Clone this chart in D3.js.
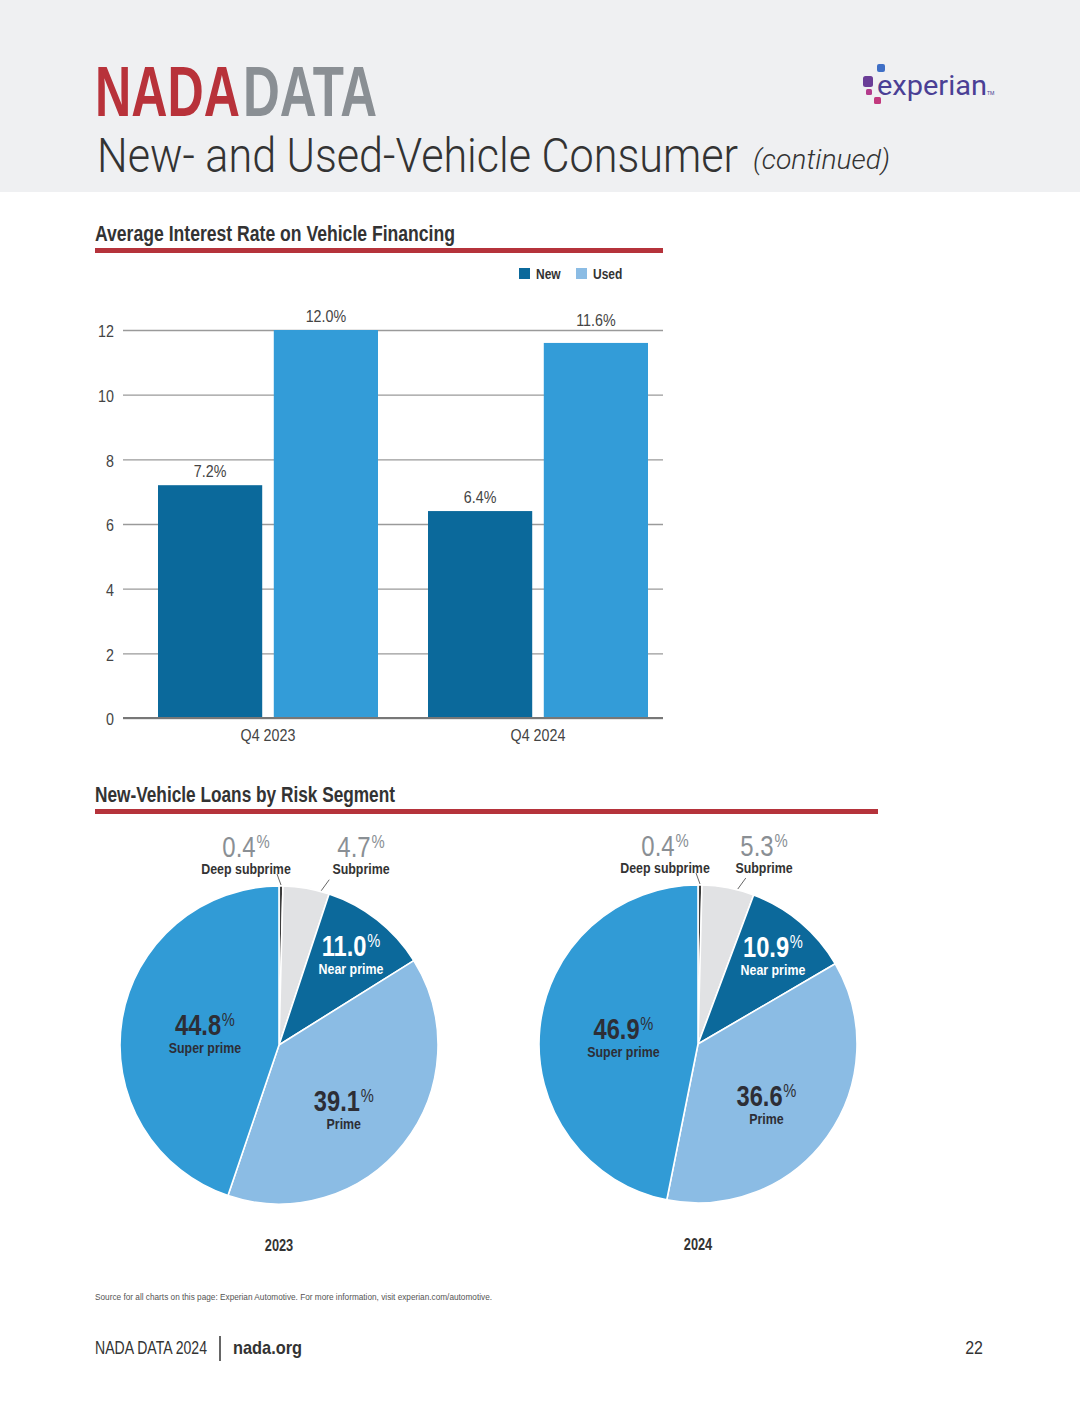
<!DOCTYPE html>
<html>
<head>
<meta charset="utf-8">
<script src="https://d3js.org/d3.v7.min.js"></script>
<style>
  body { margin: 0; background: #fff; }
  svg { display: block; }
  .cond, .cond text { font-family: "Liberation Sans", Arial, sans-serif; }
</style>
</head>
<body>
<div id="page"></div>
<script>
// chart data
var rateCategories = ["Q4 2023", "Q4 2024"];
var rateSeries = ["New", "Used"];
var rateNew = [7.2, 6.4];
var rateUsed = [12.0, 11.6];
var rateTicks = [0, 2, 4, 6, 8, 10, 12];

var segments = ["Deep subprime", "Subprime", "Near prime", "Prime", "Super prime"];
var share2023 = [0.4, 4.7, 11.0, 39.1, 44.8];
var share2024 = [0.4, 5.3, 10.9, 36.6, 46.9];
var pieYears = ["2023", "2024"];

// colours
var red = "#b5333b";
var seriesColor = { "New": "#0b699b", "Used": "#339cd8" };
var legendColor = { "New": "#0b699b", "Used": "#8bbce4" };
var segColor = {
  "Deep subprime": "#3c3c3c",
  "Subprime": "#e1e2e4",
  "Near prime": "#0c699b",
  "Prime": "#8bbce4",
  "Super prime": "#319bd6"
};
var ink = "#2d2e36";

var svgWidth = 1080;
var svgHeight = 1407;

var svg = d3.select("#page")
  .append("svg")
  .attr("width", svgWidth)
  .attr("height", svgHeight);

// ---------- header ----------
svg.append("rect")
  .attr("width", svgWidth)
  .attr("height", 192)
  .attr("fill", "#eff0f2");

svg.append("text")
  .attr("x", 95).attr("y", 116)
  .attr("font-family", "'Liberation Sans', Arial, sans-serif")
  .attr("font-size", 70).attr("font-weight", "bold")
  .attr("fill", "#b8323a")
  .attr("textLength", 145).attr("lengthAdjust", "spacingAndGlyphs")
  .text("NADA");

svg.append("text")
  .attr("x", 243).attr("y", 116)
  .attr("font-family", "'Liberation Sans', Arial, sans-serif")
  .attr("font-size", 70).attr("font-weight", "bold")
  .attr("fill", "#8a8f94")
  .attr("textLength", 134).attr("lengthAdjust", "spacingAndGlyphs")
  .text("DATA");

svg.append("text")
  .attr("x", 97).attr("y", 172)
  .attr("font-family", "Roboto, 'Open Sans', sans-serif")
  .attr("font-size", 48).attr("font-weight", 300)
  .attr("fill", "#333")
  .attr("textLength", 641).attr("lengthAdjust", "spacingAndGlyphs")
  .text("New- and Used-Vehicle Consumer");

svg.append("text")
  .attr("x", 753).attr("y", 169)
  .attr("font-family", "Roboto, 'Open Sans', sans-serif")
  .attr("font-size", 28).attr("font-weight", 300).attr("font-style", "italic")
  .attr("fill", "#333")
  .attr("textLength", 137).attr("lengthAdjust", "spacingAndGlyphs")
  .text("(continued)");

// experian logo
var logo = svg.append("g");
logo.append("rect").attr("x", 877).attr("y", 64).attr("width", 8).attr("height", 8).attr("rx", 2).attr("fill", "#3f6fc6");
logo.append("rect").attr("x", 863).attr("y", 76).attr("width", 10).attr("height", 11).attr("rx", 2.5).attr("fill", "#6a3d97");
logo.append("rect").attr("x", 866).attr("y", 89).attr("width", 6).attr("height", 6).attr("rx", 1.5).attr("fill", "#b33b8c");
logo.append("rect").attr("x", 874).attr("y", 97).attr("width", 7).attr("height", 7).attr("rx", 1.5).attr("fill", "#c2397e");
logo.append("text")
  .attr("x", 877).attr("y", 95)
  .attr("font-family", "Roboto, 'Open Sans', sans-serif")
  .attr("font-size", 28)
  .attr("fill", "#4a3f95")
  .attr("textLength", 110).attr("lengthAdjust", "spacingAndGlyphs")
  .text("experian");
logo.append("text")
  .attr("x", 987).attr("y", 95)
  .attr("font-family", "Roboto, sans-serif")
  .attr("font-size", 5)
  .attr("fill", "#4a3f95")
  .text("TM");

// section title helper
function sectionTitle(label, y, x1, width) {
  svg.append("text")
    .attr("x", 95).attr("y", y)
    .attr("font-family", "'Liberation Sans', Arial, sans-serif")
    .attr("font-size", 22).attr("font-weight", "bold")
    .attr("fill", "#333")
    .attr("textLength", width).attr("lengthAdjust", "spacingAndGlyphs")
    .text(label);
  svg.append("rect")
    .attr("x", 95).attr("y", y + 7)
    .attr("width", x1 - 95).attr("height", 5)
    .attr("fill", red);
}

// ---------- bar chart ----------
sectionTitle("Average Interest Rate on Vehicle Financing", 241, 663, 360);

var barData = rateCategories.map(function(c, i) {
  return { category: c, values: [
    { key: "New", value: rateNew[i] },
    { key: "Used", value: rateUsed[i] }
  ] };
});

var x0 = d3.scaleBand()
  .domain(rateCategories)
  .range([133, 673])
  .paddingInner(50 / 270)
  .paddingOuter(25 / 270);

var x1 = d3.scaleBand()
  .domain(rateSeries)
  .range([0, x0.bandwidth()])
  .paddingInner(0.1);

var y = d3.scaleLinear()
  .domain([0, 12])
  .range([718, 330]);

// gridlines + tick labels
var yAxis = d3.axisLeft(y)
  .tickValues(rateTicks)
  .tickSize(-(663 - 123))
  .tickPadding(9)
  .tickFormat(d3.format("d"));

var yAxisGroup = svg.append("g")
  .attr("class", "cond")
  .attr("transform", "translate(123,0)")
  .call(yAxis);

yAxisGroup.select(".domain").remove();
yAxisGroup.selectAll(".tick line")
  .attr("stroke", "#9a9a9a")
  .attr("stroke-width", 1.4);
yAxisGroup.selectAll(".tick text")
  .attr("font-size", 17)
  .attr("fill", "#444")
  .attr("dy", "0.4em");

var groups = svg.selectAll(".bar-group")
  .data(barData)
  .enter()
  .append("g")
  .attr("class", "bar-group")
  .attr("transform", d => `translate(${x0(d.category)},0)`);

groups.selectAll("rect")
  .data(d => d.values)
  .enter()
  .append("rect")
  .attr("x", d => x1(d.key))
  .attr("y", d => y(d.value))
  .attr("width", x1.bandwidth())
  .attr("height", d => y(0) - y(d.value))
  .attr("fill", d => seriesColor[d.key]);

// value label sits above the bar, lifted over a gridline if it would cross one
function labelY(v) {
  var ly = y(v) - 8;
  rateTicks.forEach(function(t) {
    var gy = y(t);
    if (gy > ly - 13 && gy < ly + 2) ly = gy - 4;
  });
  return ly;
}

groups.selectAll(".val")
  .data(d => d.values)
  .enter()
  .append("text")
  .attr("class", "cond val")
  .attr("x", d => x1(d.key) + x1.bandwidth() / 2)
  .attr("y", d => labelY(d.value))
  .attr("text-anchor", "middle")
  .attr("font-size", 17)
  .attr("fill", "#444")
  .text(d => d3.format(".1f")(d.value) + "%");

// baseline
svg.append("line")
  .attr("x1", 123).attr("x2", 663)
  .attr("y1", y(0)).attr("y2", y(0))
  .attr("stroke", "#777")
  .attr("stroke-width", 2);

// category labels
var xAxis = d3.axisBottom(x0).tickSize(0).tickPadding(11);
var xAxisGroup = svg.append("g")
  .attr("class", "cond")
  .attr("transform", `translate(0,${y(0)})`)
  .call(xAxis);
xAxisGroup.select(".domain").remove();
xAxisGroup.selectAll(".tick text")
  .attr("font-size", 17)
  .attr("fill", "#444");

// legend
var legendX = { "New": 519, "Used": 576 };
rateSeries.forEach(function(s) {
  svg.append("rect")
    .attr("x", legendX[s]).attr("y", 268)
    .attr("width", 11).attr("height", 11)
    .attr("fill", legendColor[s]);
  svg.append("text")
    .attr("class", "cond")
    .attr("x", legendX[s] + 17).attr("y", 279)
    .attr("font-size", 15).attr("font-weight", "bold")
    .attr("fill", "#333")
    .text(s);
});

// ---------- pie charts ----------
sectionTitle("New-Vehicle Loans by Risk Segment", 802, 878, 300);

var radius = 159;
var pie = d3.pie().sort(null).value(d => d.value);
var arc = d3.arc().innerRadius(0).outerRadius(radius);

// inside label layout: radius fraction and where along the slice
var insideLayout = {
  "Near prime": { r: 0.72, f: 0.52, fill: "#fff" },
  "Prime": { r: 0.58, f: 0.55, fill: ink },
  "Super prime": { r: 0.47, f: 0.49, fill: ink }
};

var pies = [
  { year: pieYears[0], values: share2023, cx: 279, cy: 1045, subDx: 82, subLead: 0.82 },
  { year: pieYears[1], values: share2024, cx: 698, cy: 1044, subDx: 66, subLead: 0.68 }
];

function pctLabel(g, x, yy, value, size, fill, weight) {
  var t = g.append("text")
    .attr("class", "cond")
    .attr("x", x).attr("y", yy)
    .attr("text-anchor", "middle")
    .attr("fill", fill);
  t.append("tspan")
    .attr("font-size", size)
    .attr("font-weight", weight)
    .text(d3.format(".1f")(value));
  t.append("tspan")
    .attr("font-size", size * 0.62)
    .attr("font-weight", "normal")
    .attr("dx", 1)
    .attr("dy", -size * 0.3)
    .text("%");
  return t;
}

pies.forEach(function(p) {
  var data = segments.map((s, i) => ({ key: s, value: p.values[i] }));
  var arcs = pie(data);

  var g = svg.append("g")
    .attr("transform", `translate(${p.cx},${p.cy})`);

  g.selectAll("path")
    .data(arcs)
    .enter()
    .append("path")
    .attr("d", arc)
    .attr("fill", d => segColor[d.data.key])
    .attr("stroke", "#fff")
    .attr("stroke-width", 1.6)
    .attr("stroke-linejoin", "round");

  // inside labels
  arcs.filter(d => insideLayout[d.data.key]).forEach(function(d) {
    var lay = insideLayout[d.data.key];
    var a = d.startAngle + (d.endAngle - d.startAngle) * lay.f;
    var r = radius * lay.r;
    var lx = Math.sin(a) * r;
    var ly = -Math.cos(a) * r;
    pctLabel(g, lx, ly, d.data.value, 30, lay.fill, "bold");
    g.append("text")
      .attr("class", "cond")
      .attr("x", lx).attr("y", ly + 18)
      .attr("text-anchor", "middle")
      .attr("font-size", 15.5).attr("font-weight", "bold")
      .attr("fill", lay.fill)
      .text(d.data.key);
  });

  // outside labels with leader lines
  var outside = [
    { d: arcs[0], dx: -33, frac: 0.5, lx: -4 },
    { d: arcs[1], dx: p.subDx, frac: p.subLead, lx: 8 }
  ];
  outside.forEach(function(o) {
    var a = o.d.startAngle + (o.d.endAngle - o.d.startAngle) * o.frac;
    var sx = Math.sin(a) * (radius + 1);
    var sy = -Math.cos(a) * (radius + 1);
    g.append("line")
      .attr("x1", sx).attr("y1", sy)
      .attr("x2", sx + o.lx).attr("y2", sy - 11)
      .attr("stroke", "#666")
      .attr("stroke-width", 1);
    pctLabel(g, o.dx, -188, o.d.data.value, 29, "#8a8f94", "normal");
    g.append("text")
      .attr("class", "cond")
      .attr("x", o.dx).attr("y", -171)
      .attr("text-anchor", "middle")
      .attr("font-size", 15.5).attr("font-weight", "bold")
      .attr("fill", "#333")
      .text(o.d.data.key);
  });

  // year label
  g.append("text")
    .attr("class", "cond")
    .attr("x", 0).attr("y", 206)
    .attr("text-anchor", "middle")
    .attr("font-size", 16).attr("font-weight", "bold")
    .attr("fill", "#333")
    .text(p.year);
});

// ---------- footer ----------
svg.append("text")
  .attr("x", 95).attr("y", 1300)
  .attr("font-family", "'Liberation Sans', Arial, sans-serif")
  .attr("font-size", 9)
  .attr("fill", "#555")
  .attr("textLength", 397).attr("lengthAdjust", "spacingAndGlyphs")
  .text("Source for all charts on this page: Experian Automotive. For more information, visit experian.com/automotive.");

svg.append("text")
  .attr("x", 95).attr("y", 1354)
  .attr("font-family", "'Liberation Sans', Arial, sans-serif")
  .attr("font-size", 19)
  .attr("fill", "#333")
  .attr("textLength", 112).attr("lengthAdjust", "spacingAndGlyphs")
  .text("NADA DATA 2024");

svg.append("line")
  .attr("x1", 220).attr("x2", 220)
  .attr("y1", 1336).attr("y2", 1361)
  .attr("stroke", "#333").attr("stroke-width", 1.5);

svg.append("text")
  .attr("x", 233).attr("y", 1354)
  .attr("font-family", "'Liberation Sans', Arial, sans-serif")
  .attr("font-size", 19).attr("font-weight", "bold")
  .attr("fill", "#333")
  .attr("textLength", 69).attr("lengthAdjust", "spacingAndGlyphs")
  .text("nada.org");

svg.append("text")
  .attr("class", "cond")
  .attr("x", 983).attr("y", 1354)
  .attr("text-anchor", "end")
  .attr("font-size", 19)
  .attr("fill", "#333")
  .text("22");

// squeeze every condensed text to mimic the narrow gothic face
svg.selectAll("text.cond, .cond text").each(function() {
  var el = d3.select(this);
  var bold = el.attr("font-weight") === "bold" ||
    (this.firstChild && this.firstChild.getAttribute && this.firstChild.getAttribute("font-weight") === "bold");
  var w = this.getComputedTextLength();
  el.attr("textLength", w * (bold ? 0.8 : 0.84))
    .attr("lengthAdjust", "spacingAndGlyphs");
});
</script>
</body>
</html>
